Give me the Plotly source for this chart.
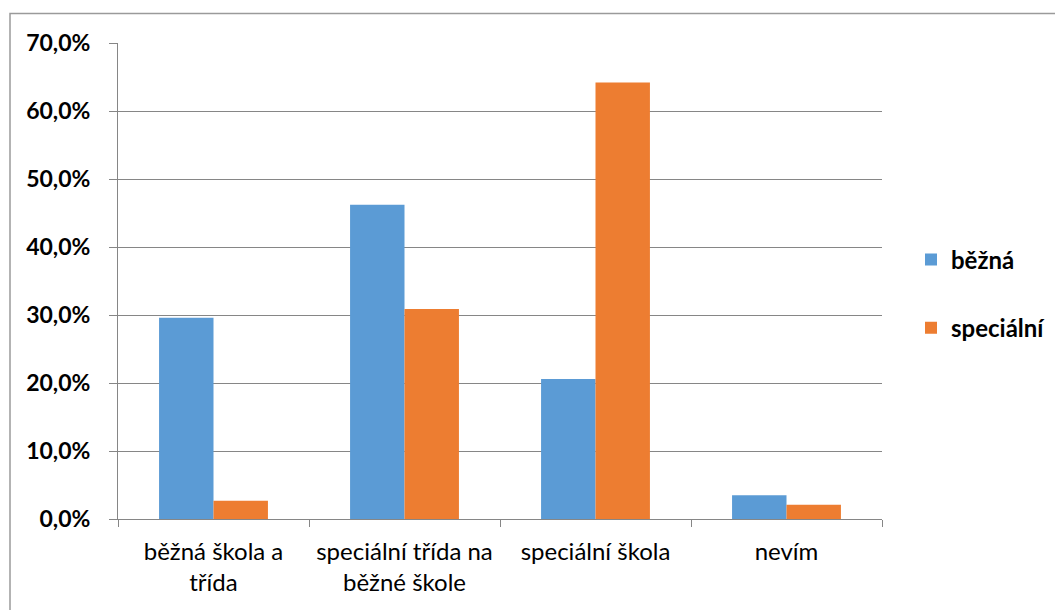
import plotly.graph_objects as go

# Survey answers: preferred type of school, by current school of respondent
categories = ["běžná škola a<br>třída", "speciální třída na<br>běžné škole", "speciální škola", "nevím"]
bezna = [29.6, 46.2, 20.6, 3.5]
specialni = [2.7, 30.9, 64.2, 2.1]
series_names = ["běžná", "speciální"]
y_ticks = [0, 10, 20, 30, 40, 50, 60, 70]
y_tick_text = ["0,0%", "10,0%", "20,0%", "30,0%", "40,0%", "50,0%", "60,0%", "70,0%"]

BLUE = "#5b9bd5"
ORANGE = "#ed7d31"
GRID = "#868686"
FONT = "Lato, 'Open Sans', sans-serif"

fig = go.Figure()
fig.add_trace(go.Bar(x=categories, y=bezna, name=series_names[0], marker_color=BLUE,
                     marker_line_width=0, legendgroup="a"))
fig.add_trace(go.Bar(x=categories, y=specialni, name=series_names[1], marker_color=ORANGE,
                     marker_line_width=0, legendgroup="b"))

W, H = 1055, 610
ML, MR, MT, MB = 118, 173, 43, 91
pw, ph = W - ML - MR, H - MT - MB

def px_x(px):
    return (px - ML) / pw

def px_y(py):
    return (H - MB - py) / ph

fig.update_layout(
    width=W, height=H,
    margin=dict(l=ML, r=MR, t=MT, b=MB, pad=0, autoexpand=False),
    paper_bgcolor="white", plot_bgcolor="white",
    barmode="group", bargap=0.43, bargroupgap=0,
    font=dict(family=FONT, color="#000000"),
    legend=dict(x=px_x(911), y=px_y(294), xanchor="left", yanchor="middle",
                font=dict(family=FONT, size=24, weight="bold", color="#000000"),
                tracegroupgap=34, bgcolor="rgba(0,0,0,0)", itemwidth=30),
    showlegend=True,
    xaxis=dict(type="category", showgrid=False, showline=True, linecolor=GRID, linewidth=1,
               ticks="outside", tickson="boundaries", ticklen=7, tickcolor=GRID,
               tickfont=dict(family=FONT, size=24, color="#000000"),
               ticklabelstandoff=11),
    yaxis=dict(range=[0, 70], tickmode="array", tickvals=y_ticks, ticktext=y_tick_text,
               showgrid=True, gridcolor=GRID, gridwidth=1, zeroline=False,
               showline=True, linecolor=GRID, linewidth=1,
               ticks="outside", ticklen=8, tickcolor=GRID,
               tickfont=dict(family=FONT, size=23, weight="bold", color="#000000"),
               ticklabelstandoff=14),
    shapes=[dict(type="rect", xref="paper", yref="paper",
                 x0=px_x(10), x1=px_x(1070), y0=px_y(13.5), y1=px_y(640),
                 line=dict(color="#9a9a9a", width=1.5), fillcolor="rgba(0,0,0,0)",
                 layer="below")],
)

fig.write_html("out.html")
